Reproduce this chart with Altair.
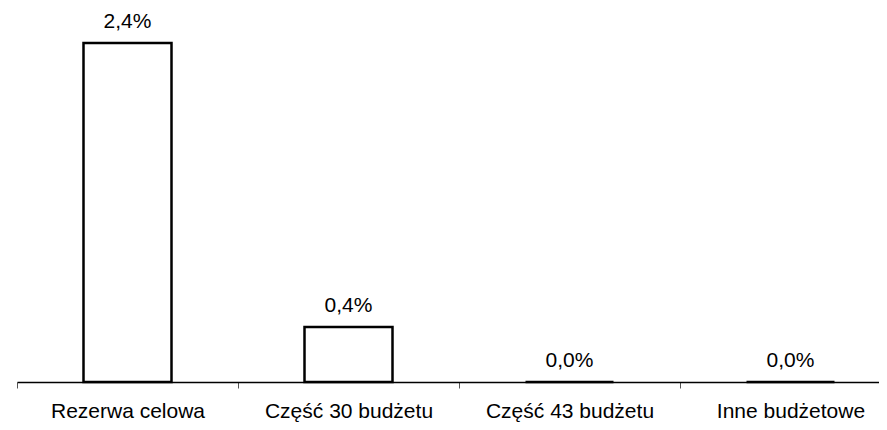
import altair as alt
import pandas as pd

categories = ["Rezerwa celowa", "Część 30 budżetu", "Część 43 budżetu", "Inne budżetowe"]
values = [2.44, 0.396, 0.0, 0.0]
labels = ["2,4%", "0,4%", "0,0%", "0,0%"]

df = pd.DataFrame({"cat": categories, "val": values, "lab": labels})

FONT = "Liberation Sans"

x = alt.X("cat:N", sort=categories, title=None,
          scale=alt.Scale(range=[0, 884], paddingInner=0, paddingOuter=0),
          axis=alt.Axis(labelAngle=0, domainColor="#000000", domainWidth=1.5,
                        tickColor="#555555", tickSize=6, tickBand="extent",
                        labelFont=FONT, labelFontSize=21, labelColor="#000000",
                        labelBaseline="alphabetic", labelPadding=29))
y = alt.Y("val:Q", scale=alt.Scale(domain=[0, 2.678], nice=False, zero=True), axis=None)

bars = alt.Chart(df).mark_bar(fill="white", stroke="black", strokeWidth=2.5, size=88).encode(x=x, y=y)
text = alt.Chart(df).mark_text(font=FONT, fontSize=21, color="black", baseline="alphabetic", dy=-15).encode(
    x=alt.X("cat:N", sort=categories), y=y, text="lab:N")

chart = alt.layer(bars, text).properties(
    width=862, height=372,
    autosize=alt.AutoSizeParams(type="none"),
    padding={"left": 9, "top": 2, "right": 0, "bottom": 40},
).configure(background="white").configure_view(strokeWidth=0, stroke=None)

chart.save("out.html", embed_options={"renderer": "svg", "actions": False})
